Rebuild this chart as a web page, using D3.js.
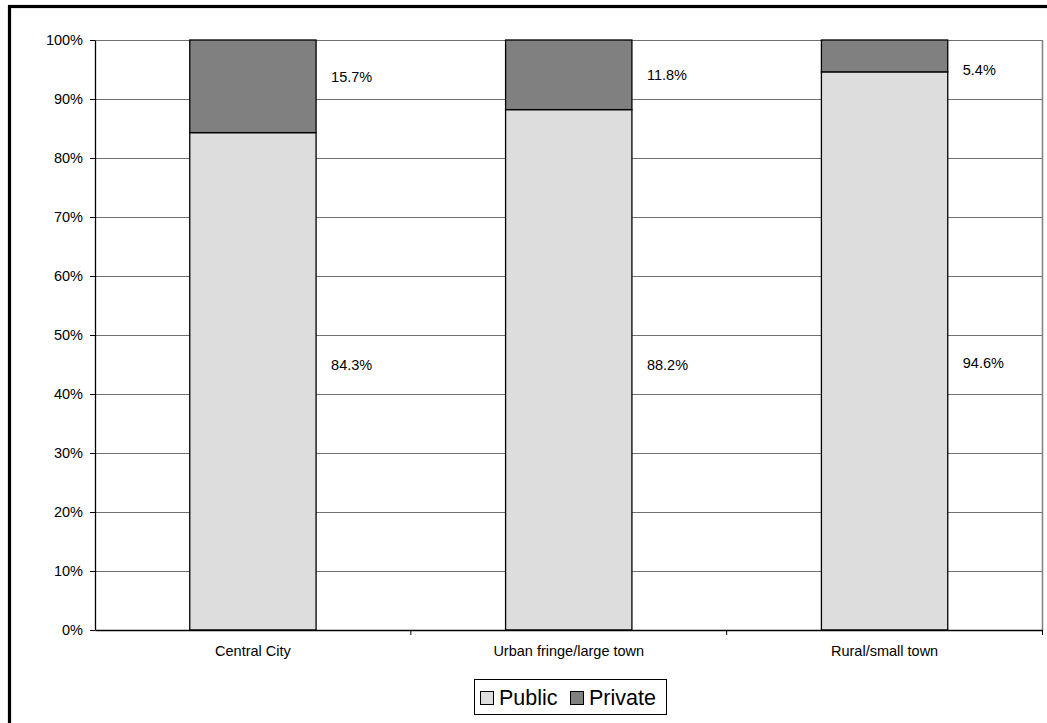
<!DOCTYPE html>
<html>
<head>
<meta charset="utf-8">
<script src="https://cdn.jsdelivr.net/npm/d3@7"></script>
<style>
  html, body { margin: 0; padding: 0; background: #fff; }
  svg { display: block; }
  text { font-family: "Liberation Sans", Arial, sans-serif; fill: #000; }
</style>
</head>
<body>
<svg id="chart" width="1047" height="723"></svg>
<script>
// ---- data ----
const categories = ["Central City", "Urban fringe/large town", "Rural/small town"];
const seriesNames = ["Public", "Private"];
const publicValues = [84.3, 88.2, 94.6];
const privateValues = [15.7, 11.8, 5.4];
const publicLabels = ["84.3%", "88.2%", "94.6%"];
const privateLabels = ["15.7%", "11.8%", "5.4%"];
// label anchor heights (percent of axis) as placed in the original
const publicLabelPos = [45.0, 45.0, 45.2];
const privateLabelPos = [93.7, 94.1, 94.9];
const yTicks = [0, 10, 20, 30, 40, 50, 60, 70, 80, 90, 100];
const colors = { Public: "#dddddd", Private: "#808080" };

// ---- layout ----
const svg = d3.select("#chart");
const plot = { left: 95, top: 40, right: 1042.5, bottom: 630 };

// outer frame (extends beyond right / bottom edges)
svg.append("rect")
  .attr("x", 9.5).attr("y", 6.5)
  .attr("width", 1200).attr("height", 900)
  .attr("fill", "#fff").attr("stroke", "#000").attr("stroke-width", 3.2);

const x = d3.scaleBand()
  .domain(categories)
  .range([plot.left, plot.right])
  .paddingInner(0.6)
  .paddingOuter(0.3);

const xCat = d3.scaleBand()
  .domain(categories)
  .range([plot.left, plot.right])
  .padding(0);

const y = d3.scaleLinear().domain([0, 100]).range([plot.bottom, plot.top]);

// gridlines
svg.append("g")
  .selectAll("line")
  .data(yTicks.filter(d => d > 0))
  .join("line")
  .attr("x1", plot.left).attr("x2", plot.right)
  .attr("y1", d => Math.round(y(d)) + 0.5).attr("y2", d => Math.round(y(d)) + 0.5)
  .attr("stroke", "#707070").attr("stroke-width", 1.2);

// plot area right border
svg.append("line")
  .attr("x1", plot.right).attr("x2", plot.right)
  .attr("y1", plot.top).attr("y2", plot.bottom)
  .attr("stroke", "#808080").attr("stroke-width", 1.5);

// stacked data
const rows = categories.map((c, i) => ({ cat: c, Public: publicValues[i], Private: privateValues[i] }));
const stack = d3.stack().keys(seriesNames)(rows);

svg.append("g")
  .selectAll("g")
  .data(stack)
  .join("g")
  .attr("fill", d => colors[d.key])
  .selectAll("rect")
  .data(d => d)
  .join("rect")
  .attr("x", d => x(d.data.cat))
  .attr("width", x.bandwidth())
  .attr("y", d => y(Math.min(100, d[1])))
  .attr("height", d => y(d[0]) - y(Math.min(100, d[1])))
  .attr("stroke", "#000").attr("stroke-width", 1.3);

// y axis
const yAxis = d3.axisLeft(y)
  .tickValues(yTicks)
  .tickFormat(d => d + "%")
  .tickSizeInner(5).tickSizeOuter(0).tickPadding(7);
const gy = svg.append("g").attr("transform", `translate(${plot.left},0)`).call(yAxis);
gy.selectAll("text").style("font-size", "14.5px").style("font-family", '"Liberation Sans", Arial, sans-serif');
gy.selectAll("line").attr("stroke", "#000");
gy.select(".domain").attr("stroke", "#000").attr("stroke-width", 1.3);

// x axis
const xAxis = d3.axisBottom(xCat).tickSize(0).tickPadding(16);
const gx = svg.append("g").attr("transform", `translate(0,${plot.bottom})`).call(xAxis);
gx.selectAll("text").style("font-size", "14.5px").style("font-family", '"Liberation Sans", Arial, sans-serif');
gx.select(".domain").attr("stroke", "#000").attr("stroke-width", 1.3);
// category boundary tick marks
gx.append("g").selectAll("line")
  .data(categories.slice(1).concat(["__end"]))
  .join("line")
  .attr("x1", d => d === "__end" ? plot.right : xCat(d))
  .attr("x2", d => d === "__end" ? plot.right : xCat(d))
  .attr("y1", 0).attr("y2", 5)
  .attr("stroke", "#000");

// data labels
const lab = svg.append("g").style("font-size", "14.5px");
lab.selectAll("text.pub")
  .data(categories)
  .join("text")
  .attr("class", "pub")
  .attr("x", d => x(d) + x.bandwidth() + 15)
  .attr("y", (d, i) => y(publicLabelPos[i]))
  .attr("dominant-baseline", "central")
  .text((d, i) => publicLabels[i]);
lab.selectAll("text.priv")
  .data(categories)
  .join("text")
  .attr("class", "priv")
  .attr("x", d => x(d) + x.bandwidth() + 15)
  .attr("y", (d, i) => y(privateLabelPos[i]))
  .attr("dominant-baseline", "central")
  .text((d, i) => privateLabels[i]);

// legend
const leg = svg.append("g");
leg.append("rect")
  .attr("x", 474.5).attr("y", 679.5).attr("width", 192).attr("height", 35)
  .attr("fill", "#fff").attr("stroke", "#000").attr("stroke-width", 1);
const legItems = [
  { name: seriesNames[0], sx: 480, tx: 499 },
  { name: seriesNames[1], sx: 570, tx: 589 }
];
legItems.forEach(it => {
  leg.append("rect")
    .attr("x", it.sx + 0.5).attr("y", 691.5).attr("width", 13).attr("height", 13)
    .attr("fill", colors[it.name]).attr("stroke", "#000").attr("stroke-width", 1);
  leg.append("text")
    .attr("x", it.tx).attr("y", 698)
    .attr("dominant-baseline", "central")
    .style("font-size", "21.5px")
    .text(it.name);
});
</script>
</body>
</html>
